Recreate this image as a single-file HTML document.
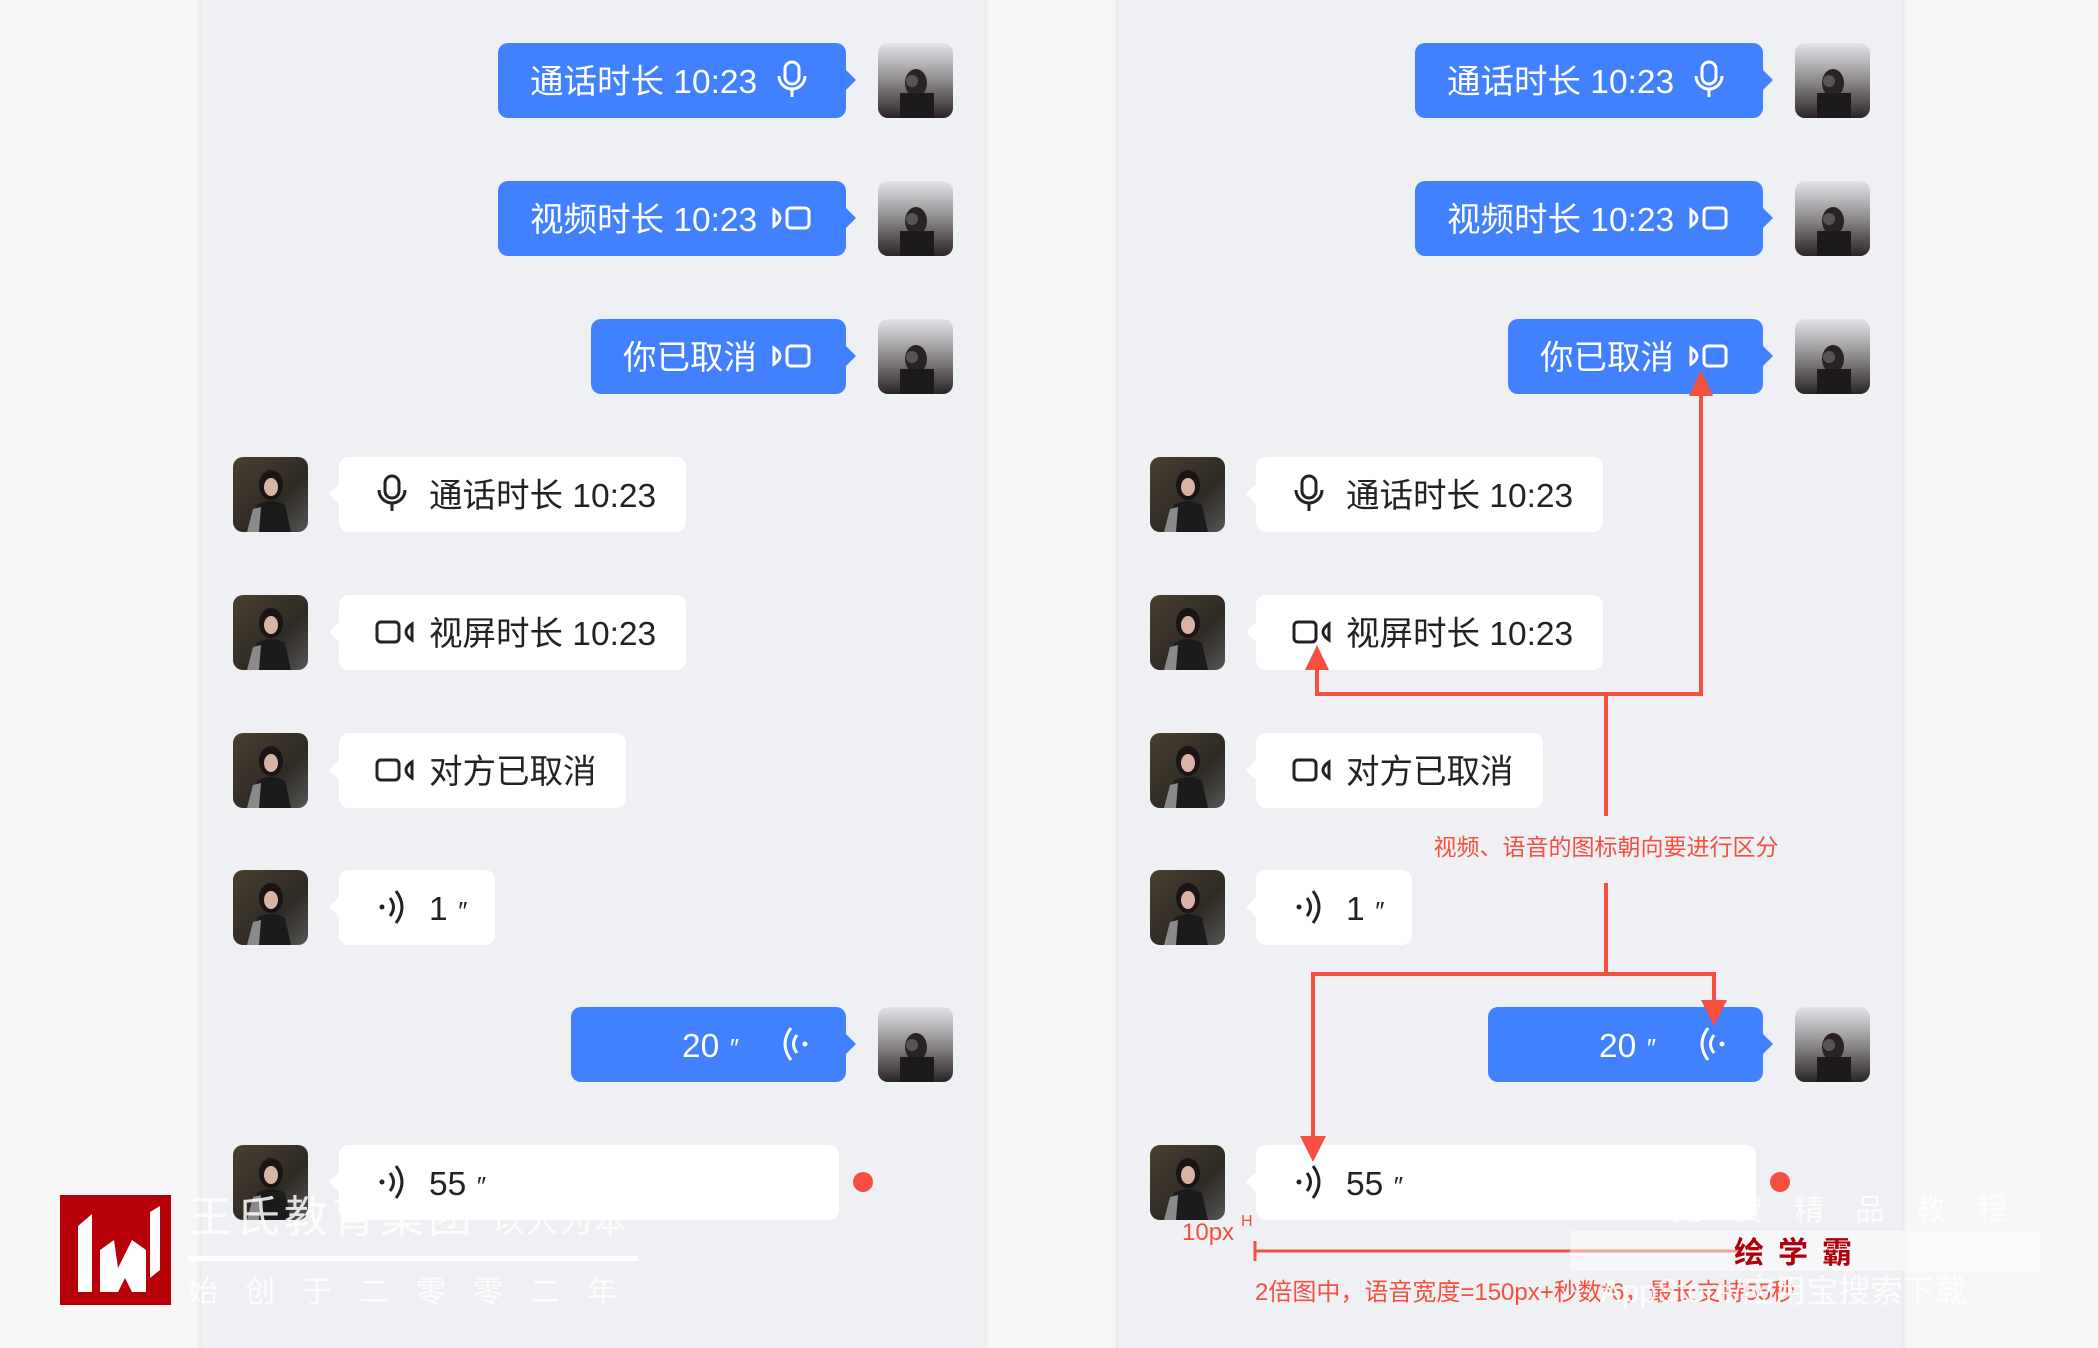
<!DOCTYPE html>
<html><head><meta charset="utf-8"><style>
html,body{margin:0;padding:0;background:#f7f7f7;}
svg{display:block;}
text{font-family:"Liberation Sans","Noto Sans CJK SC",sans-serif;}
</style></head><body>
<svg width="2098" height="1348" viewBox="0 0 2098 1348" xmlns="http://www.w3.org/2000/svg">
<defs>
<linearGradient id="av1" x1="0" y1="0" x2="0" y2="1"><stop offset="0" stop-color="#e4e4e8"/><stop offset="0.5" stop-color="#8d8a8c"/><stop offset="1" stop-color="#2a2426"/></linearGradient>
<linearGradient id="av2" x1="0" y1="0" x2="1" y2="1"><stop offset="0" stop-color="#4a3f30"/><stop offset="0.6" stop-color="#2e2a24"/><stop offset="1" stop-color="#555"/></linearGradient>
<filter id="sh" x="-5%" y="-5%" width="110%" height="110%"><feDropShadow dx="0" dy="0" stdDeviation="3" flood-color="#000" flood-opacity="0.12"/></filter>
<g id="avR"><rect width="75" height="75" rx="10" fill="url(#av1)"/><ellipse cx="38" cy="40" rx="11" ry="14" fill="#2b2224"/><rect x="22" y="50" width="34" height="25" fill="#1c1a1b"/><circle cx="34" cy="38" r="6" fill="#555"/></g>
<g id="avL"><rect width="75" height="75" rx="10" fill="url(#av2)"/><ellipse cx="38" cy="28" rx="12" ry="15" fill="#1a1414"/><ellipse cx="38" cy="30" rx="7" ry="9" fill="#d9b4a4"/><path d="M18 75 L24 48 Q38 40 52 48 L58 75 Z" fill="#1b1b1b"/><path d="M14 75 L20 52 L28 50 L26 75Z" fill="#8a8a8a"/></g>
<g id="panel">
<rect x="201" y="-10" width="784" height="1370" fill="#eef0f4" filter="url(#sh)"/>
<rect x="498" y="43" width="348" height="75" rx="10" fill="#4181ff"/><path d="M846 70 L856 80 L846 90Z" fill="#4181ff"/>
<text x="530" y="93" font-size="33.5" fill="#fff">通话时长 10:23</text>
<g stroke="#fff" stroke-width="3" fill="none"><rect x="785" y="62" width="14" height="22" rx="7"/><path d="M779 76 a13 13 0 0 0 26 0"/><path d="M792 89 v8"/></g>
<use href="#avR" x="878" y="43"/>
<rect x="498" y="181" width="348" height="75" rx="10" fill="#4181ff"/><path d="M846 208 L856 218 L846 228Z" fill="#4181ff"/>
<text x="530" y="231" font-size="33.5" fill="#fff">视频时长 10:23</text>
<g stroke="#fff" stroke-width="3" fill="none"><rect x="787" y="208" width="22" height="20" rx="4"/><path d="M774 210 Q786 218 774 226Z"/></g>
<use href="#avR" x="878" y="181"/>
<rect x="591" y="319" width="255" height="75" rx="10" fill="#4181ff"/><path d="M846 346 L856 356 L846 366Z" fill="#4181ff"/>
<text x="623" y="369" font-size="33.5" fill="#fff">你已取消</text>
<g stroke="#fff" stroke-width="3" fill="none"><rect x="787" y="346" width="22" height="20" rx="4"/><path d="M774 348 Q786 356 774 364Z"/></g>
<use href="#avR" x="878" y="319"/>
<use href="#avL" x="233" y="457"/>
<rect x="339" y="457" width="347" height="75" rx="10" fill="#fff"/><path d="M339 484 L329 494 L339 504Z" fill="#fff"/>
<g stroke="#222" stroke-width="3" fill="none"><rect x="385" y="476" width="14" height="22" rx="7"/><path d="M379 490 a13 13 0 0 0 26 0"/><path d="M392 503 v8"/></g>
<text x="429" y="507" font-size="33.5" fill="#222">通话时长 10:23</text>
<use href="#avL" x="233" y="595"/>
<rect x="339" y="595" width="347" height="75" rx="10" fill="#fff"/><path d="M339 622 L329 632 L339 642Z" fill="#fff"/>
<g stroke="#222" stroke-width="3" fill="none"><rect x="377" y="622" width="22" height="20" rx="4"/><path d="M412 624 Q400 632 412 640Z"/></g>
<text x="429" y="645" font-size="33.5" fill="#222">视屏时长 10:23</text>
<use href="#avL" x="233" y="733"/>
<rect x="339" y="733" width="287" height="75" rx="10" fill="#fff"/><path d="M339 760 L329 770 L339 780Z" fill="#fff"/>
<g stroke="#222" stroke-width="3" fill="none"><rect x="377" y="760" width="22" height="20" rx="4"/><path d="M412 762 Q400 770 412 778Z"/></g>
<text x="429" y="783" font-size="33.5" fill="#222">对方已取消</text>
<use href="#avL" x="233" y="870"/>
<rect x="339" y="870" width="156" height="75" rx="10" fill="#fff"/><path d="M339 897 L329 907 L339 917Z" fill="#fff"/>
<g stroke="#222" stroke-width="3" fill="none"><path d="M390 898 q7 9 0 18"/><path d="M396 891 q12 16 0 32"/></g><circle cx="382" cy="907" r="2.5" fill="#222"/>
<text x="429" y="920" font-size="33.5" fill="#222">1 <tspan font-style="italic" font-size="26">″</tspan></text>
<rect x="571" y="1007" width="275" height="75" rx="10" fill="#4181ff"/><path d="M846 1034 L856 1044 L846 1054Z" fill="#4181ff"/>
<text x="682" y="1057" font-size="33.5" fill="#fff">20 <tspan font-style="italic" font-size="26">″</tspan></text>
<g stroke="#fff" stroke-width="3" fill="none"><path d="M797 1035 q-7 9 0 18"/><path d="M791 1028 q-12 16 0 32"/></g><circle cx="805" cy="1044" r="2.5" fill="#fff"/>
<use href="#avR" x="878" y="1007"/>
<use href="#avL" x="233" y="1145"/>
<rect x="339" y="1145" width="500" height="75" rx="10" fill="#fff"/><path d="M339 1172 L329 1182 L339 1192Z" fill="#fff"/>
<g stroke="#222" stroke-width="3" fill="none"><path d="M390 1173 q7 9 0 18"/><path d="M396 1166 q12 16 0 32"/></g><circle cx="382" cy="1182" r="2.5" fill="#222"/>
<text x="429" y="1195" font-size="33.5" fill="#222">55 <tspan font-style="italic" font-size="26">″</tspan></text>
<circle cx="863" cy="1182" r="10" fill="#f5503f"/>
</g>
</defs>
<rect width="2098" height="1348" fill="#f7f7f7"/>
<use href="#panel"/>
<use href="#panel" x="917"/>

<g stroke="#f5503f" stroke-width="4" fill="none">
<path d="M1701 392 V694 H1317 V660"/>
<path d="M1606 694 V816"/>
<path d="M1606 883 V974 H1313 V1145"/>
<path d="M1606 974 H1714 V1010"/>
<path d="M1255 1251 H1740" stroke-width="3"/><path d="M1255 1241 V1261" stroke-width="3"/>
</g>
<g fill="#f5503f">
<path d="M1689 396 L1701 370 L1713 396Z"/>
<path d="M1305 670 L1317 645 L1329 670Z"/>
<path d="M1701 1000 L1714 1026 L1727 1000Z"/>
<path d="M1300 1136 L1313 1162 L1326 1136Z"/>
</g>
<text x="1606" y="855" font-size="23" fill="#f5503f" text-anchor="middle">视频、语音的图标朝向要进行区分</text>
<text x="1182" y="1240" font-size="24" fill="#f5503f">10px</text>
<text x="1241" y="1226" font-size="16" fill="#f5503f">H</text>
<text x="1255" y="1300" font-size="24" fill="#f5503f">2倍图中，语音宽度=150px+秒数*6，最长支持55秒</text>

<rect x="60" y="1195" width="111" height="110" fill="#b8000a"/>
<path d="M78 1226 L92 1214 L92 1292 L78 1292Z M100 1250 L114 1240 L118 1268 L132 1240 L146 1250 L146 1292 L132 1292 L125 1278 L118 1292 L100 1292Z M150 1212 L160 1206 L160 1270 L150 1278Z" fill="#fff"/>
<text x="188" y="1232" font-size="44" fill="#fff" opacity="0.85" letter-spacing="4">王氏教育集团 <tspan font-size="32" letter-spacing="2">以人为本</tspan></text>
<rect x="188" y="1256" width="450" height="5" fill="#fff" opacity="0.9"/>
<text x="188" y="1302" font-size="30" fill="#fff" opacity="0.85" letter-spacing="27">始创于二零零二年</text>

<text x="1672" y="1220" font-size="30" fill="#fff" opacity="0.8" letter-spacing="31">免费精品教程</text>
<rect x="1570" y="1231" width="470" height="40" fill="#fff" opacity="0.45"/>
<text x="1800" y="1263" font-size="30" font-weight="bold" fill="#b0000a" text-anchor="middle" letter-spacing="14">绘学霸</text>
<text x="1600" y="1302" font-size="32" fill="#fff" opacity="0.85">AppStore/应用宝搜索下载</text>
</svg>
</body></html>
